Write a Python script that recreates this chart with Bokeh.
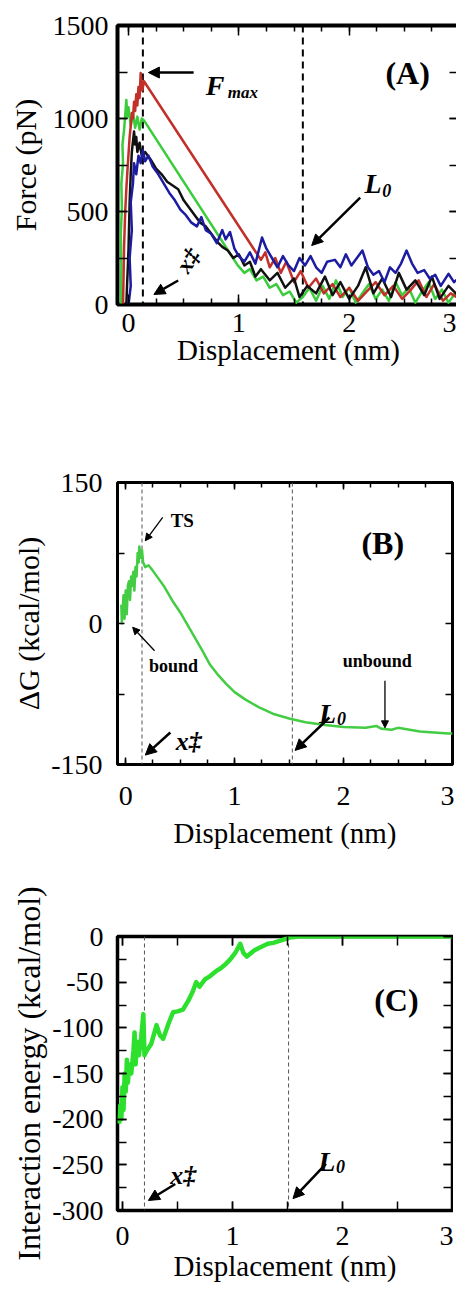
import numpy as np
from bokeh.plotting import figure
from bokeh.layouts import column
from bokeh.models import FixedTicker, LinearAxis, Span, Arrow, NormalHead, Label, Range1d
from bokeh.embed import file_html
from bokeh.resources import INLINE

SERIF = "Liberation Serif"

# ---------------- data ----------------
x_ticks = [0, 1, 2, 3]
x_tick_labels = ["0", "1", "2", "3"]
x_label = "Displacement (nm)"

# Panel A: force traces
a_yticks = [0, 500, 1000, 1500]
a_ytick_labels = ["0", "500", "1000", "1500"]
a_ylabel = "Force (pN)"

red_x = [-0.05, -0.045, -0.04, -0.03, -0.02, -0.01, 0.0, 0.01, 0.02, 0.03, 0.04, 0.05, 0.06, 0.07, 0.08,
         0.09, 0.1, 0.11, 0.125, 0.14, 1.2, 1.24, 1.28, 1.33, 1.38, 1.43, 1.5, 1.56, 1.63, 1.7, 1.77,
         1.85, 1.92, 2.0, 2.08, 2.16, 2.24, 2.32, 2.4, 2.48, 2.56, 2.63, 2.7, 2.77, 2.85, 2.92, 3.0]
red_f = [0, 150, 320, 500, 620, 720, 810, 900, 960, 1030, 1000, 1090, 1040, 1130, 1070,
         1170, 1110, 1245, 1150, 1200, 240, 280, 200, 250, 170, 230, 120, 180, 90, 140, 60,
         110, 40, 90, 20, 70, 120, 50, 100, 30, 80, 130, 40, 110, 20, 60, 30]

green_x = [-0.07, -0.065, -0.07, -0.06, -0.065, -0.05, -0.055, -0.04, -0.03, -0.02, -0.01, 0.0,
           0.02, 0.04, 0.06, 0.08, 0.1, 0.12, 0.14, 0.99, 1.05, 1.1, 1.16, 1.22, 1.28, 1.34, 1.4,
           1.46, 1.52, 1.58, 1.64, 1.7, 1.76, 1.82, 1.88, 1.94, 2.0, 2.06, 2.12, 2.18, 2.24, 2.3,
           2.36, 2.42, 2.48, 2.54, 2.6, 2.66, 2.72, 2.78, 2.84, 2.9, 2.96, 3.0]
green_f = [0, 200, 380, 520, 650, 760, 860, 940, 1020, 1100, 1010, 1060,
           960, 1030, 950, 1010, 940, 1000, 990, 210, 170, 190, 130, 150, 90, 110, 50,
           70, 10, 40, 90, 20, 100, 30, 130, 40, 90, 10, 60, 110, 30, 80,
           20, 120, 50, 90, 10, 70, 120, 30, 80, 10, 60, 40]

black_x = [-0.02, 0.0, 0.01, 0.02, 0.03, 0.05, 0.06, 0.07, 0.08, 0.1, 0.12, 0.15, 0.2, 0.25, 0.3,
           0.35, 0.4, 0.45, 0.5, 0.55, 0.6, 0.65, 0.7, 0.75, 0.8, 0.85, 0.9, 0.95, 1.0, 1.05, 1.1,
           1.15, 1.2, 1.28, 1.35, 1.42, 1.5, 1.55, 1.62, 1.7, 1.78, 1.85, 1.92, 2.0, 2.08, 2.15,
           2.22, 2.3, 2.38, 2.45, 2.52, 2.6, 2.68, 2.75, 2.82, 2.9, 3.0]
black_f = [0, 300, 550, 700, 820, 930, 860, 900, 820, 870, 800, 820, 780, 730, 700,
           660, 640, 620, 560, 520, 480, 440, 420, 380, 340, 310, 290, 250, 270, 210, 230,
           150, 190, 130, 170, 90, 140, 40, 100, 60, 150, 50, 120, 30, 100, 200,
           60, 140, 40, 170, 80, 130, 50, 150, 30, 100, 40]

blue_x = [0.0, 0.02, 0.01, 0.03, 0.02, 0.04, 0.05, 0.07, 0.09, 0.11, 0.13, 0.15, 0.18, 0.22, 0.27,
          0.32, 0.37, 0.42, 0.47, 0.52, 0.57, 0.62, 0.66, 0.7, 0.75, 0.8, 0.85, 0.88, 0.92, 0.96,
          1.0, 1.05, 1.1, 1.15, 1.21, 1.25, 1.3, 1.35, 1.4, 1.45, 1.5, 1.55, 1.6, 1.65, 1.7, 1.75,
          1.8, 1.87, 1.92, 1.97, 2.02, 2.07, 2.12, 2.17, 2.22, 2.27, 2.32, 2.37, 2.42, 2.47, 2.52,
          2.57, 2.62, 2.68, 2.73, 2.78, 2.83, 2.9, 2.95, 3.0]
blue_f = [0, 100, 250, 400, 550, 650, 760, 700, 800, 760, 830, 770, 800, 740, 700,
          650, 600, 560, 510, 480, 440, 420, 470, 400, 380, 330, 400, 350, 390, 300,
          260, 230, 280, 220, 360, 300, 250, 200, 260, 210, 180, 250, 210, 260, 200, 170,
          230, 240, 200, 270, 210, 250, 290, 200, 160, 180, 120, 200, 170, 220, 290,
          220, 170, 185, 140, 160, 100, 165, 120, 147]

# Panel B: free energy profile
b_yticks = [-150, 0, 150]
b_ytick_labels = ["-150", "0", "150"]
b_ylabel = "\u0394G (kcal/mol)"
dg_x = [-0.04, -0.035, -0.02, -0.01, 0.0, 0.01, 0.02, 0.03, 0.04, 0.05, 0.06, 0.07, 0.08, 0.09,
        0.1, 0.11, 0.12, 0.125, 0.14, 0.15, 0.16, 0.18, 0.21, 0.25, 0.3, 0.35, 0.43, 0.5, 0.61,
        0.7, 0.77, 0.85, 0.92, 1.0, 1.1, 1.22, 1.35, 1.5, 1.65, 1.83, 2.0, 2.2, 2.3, 2.35,
        2.44, 2.5, 2.7, 2.96, 3.0]
dg_y = [20, 0, 30, 5, 35, 10, 40, 45, 25, 50, 40, 55, 35, 60,
        50, 75, 65, 82, 70, 78, 65, 60, 62, 56, 48, 40, 24, 12, -10,
        -28, -43, -55, -64, -73, -81, -89, -96, -101, -105, -108, -110, -111, -109, -112,
        -113, -111, -115, -117, -117]

# Panel C: interaction energy
c_yticks = [-300, -250, -200, -150, -100, -50, 0]
c_ytick_labels = ["-300", "-250", "-200", "-150", "-100", "-50", "0"]
c_ylabel = "Interaction energy (kcal/mol)"
ie_x = [-0.03, -0.02, -0.01, 0.0, 0.01, 0.02, 0.03, 0.04, 0.05, 0.06, 0.08, 0.1, 0.11, 0.12,
        0.13, 0.15, 0.17, 0.19, 0.2, 0.22, 0.26, 0.31, 0.34, 0.37, 0.42, 0.46, 0.5, 0.55, 0.6,
        0.64, 0.67, 0.7, 0.75, 0.8, 0.85, 0.89, 0.94, 0.98, 1.03, 1.07, 1.1, 1.13, 1.2, 1.25,
        1.32, 1.37, 1.45, 1.52, 1.6, 2.0, 2.5, 3.0]
ie_y = [-205, -185, -200, -165, -190, -150, -170, -135, -160, -140, -150, -125, -105, -140,
        -115, -130, -110, -85, -130, -125, -118, -97, -108, -112, -95, -83, -82, -80, -70,
        -60, -50, -55, -47, -43, -38, -35, -30, -25, -17, -8, -18, -22, -15, -12,
        -8, -7, -4, -1, 0, 0, 0, 0]

# ---------------- helpers ----------------
def make_fig(xr, yr, fw, fh, left, top, bottom, outline_w):
    p = figure(x_range=Range1d(*xr), y_range=Range1d(*yr), frame_width=fw, frame_height=fh,
               min_border_left=left, min_border_right=2, min_border_top=top,
               min_border_bottom=bottom, output_backend="svg", toolbar_location=None)
    p.xgrid.visible = False
    p.ygrid.visible = False
    p.outline_line_color = "black"
    p.outline_line_width = outline_w
    p.background_fill_color = "white"
    p.border_fill_color = "white"
    return p


def style_axis(ax, ticks, minor, labels, tick_in, minor_in, lab_standoff=0, label=None,
               label_size="29px", label_standoff=0, hide=False):
    ax.ticker = FixedTicker(ticks=ticks, minor_ticks=minor)
    ax.axis_line_color = None
    ax.major_tick_in = tick_in
    ax.major_tick_out = 0
    ax.minor_tick_in = minor_in
    ax.minor_tick_out = 0
    ax.major_tick_line_width = 1.5
    ax.minor_tick_line_width = 1.5
    ax.major_tick_line_color = "black"
    ax.minor_tick_line_color = "black"
    if hide:
        ax.major_label_text_font_size = "0px"
        ax.major_label_text_color = None
        ax.major_label_standoff = 0
        ax.axis_label = None
    else:
        ax.major_label_overrides = {t: s for t, s in zip(ticks, labels)}
        ax.major_label_text_font = SERIF
        ax.major_label_text_font_size = "28px"
        ax.major_label_text_color = "black"
        ax.major_label_standoff = lab_standoff
        ax.axis_label = label
        ax.axis_label_text_font = SERIF
        ax.axis_label_text_font_style = "normal"
        ax.axis_label_text_font_size = label_size
        ax.axis_label_text_color = "black"
        ax.axis_label_standoff = label_standoff


def mirror(p, xt, xm, yt, ym, tin, minin, ytin, yminin):
    top = LinearAxis()
    style_axis(top, xt, xm, None, tin, minin, hide=True)
    p.add_layout(top, "above")
    right = LinearAxis()
    style_axis(right, yt, ym, None, ytin, yminin, hide=True)
    p.add_layout(right, "right")


def text(p, x, y, s, size, style="bold", align="left", baseline="alphabetic", angle=0):
    p.add_layout(Label(x=x, y=y, text=s, text_font=SERIF, text_font_style=style,
                       text_font_size=size, text_color="black", text_align=align,
                       text_baseline=baseline, angle=angle))


def arrow(p, x0, y0, x1, y1, width=2.5, head=11):
    p.add_layout(Arrow(end=NormalHead(size=head, fill_color="black", line_color="black",
                                      line_width=1),
                       x_start=x0, y_start=y0, x_end=x1, y_end=y1,
                       line_color="black", line_width=width))


x_minor_q = list(np.arange(0, 3.01, 0.25))
x_minor_h = list(np.arange(0, 3.01, 0.5))

# ---------------- Panel A ----------------
pa = make_fig((-0.1, 3.0), (0, 1500), 342, 279, 109, 25, 148, 4)
style_axis(pa.xaxis[0], x_ticks, x_minor_q, x_tick_labels, 10, 6, lab_standoff=9,
           label=x_label, label_size="29px", label_standoff=-1)
style_axis(pa.yaxis[0], a_yticks, list(np.arange(0, 1501, 250)), a_ytick_labels, 10, 10,
           lab_standoff=9, label=a_ylabel, label_size="30px", label_standoff=8)
mirror(pa, x_ticks, x_minor_q, a_yticks, list(np.arange(0, 1501, 250)), 10, 6, 10, 10)

for xv in (0.13, 1.58):
    pa.add_layout(Span(location=xv, dimension="height", line_color="black", line_width=2,
                       line_dash="7 5", level="underlay"))

pa.line(green_x, green_f, line_color="#3acc3a", line_width=2.5, line_join="round")
pa.line(red_x, red_f, line_color="#c2302a", line_width=2.5, line_join="round")
pa.line(black_x, black_f, line_color="#111111", line_width=2.5, line_join="round")
pa.line(blue_x, blue_f, line_color="#1c1ca0", line_width=2.5, line_join="round")

arrow(pa, 0.59, 1247, 0.18, 1247)
text(pa, 0.70, 1177, "F", "28px", "bold italic")
text(pa, 0.90, 1140, "max", "17px", "bold italic")
text(pa, 2.53, 1247, "(A)", "32px", "bold", align="center", baseline="middle")
arrow(pa, 2.1, 575, 1.66, 317)
text(pa, 2.14, 650, "L", "28px", "bold italic")
text(pa, 2.30, 613, "0", "18px", "bold italic")
arrow(pa, 0.45, 129, 0.23, 54)
text(pa, 0.54, 237, "x\u2021", "24px", "bold italic", align="center", baseline="middle",
     angle=1.0)

# ---------------- Panel B ----------------
pb = make_fig((-0.075, 3.0), (-150, 150), 335, 282, 117, 30, 112, 3)
style_axis(pb.xaxis[0], x_ticks, x_minor_q, x_tick_labels, 7, 5, lab_standoff=22,
           label=x_label, label_size="29px", label_standoff=9)
style_axis(pb.yaxis[0], b_yticks, [-75, 75], b_ytick_labels, 7, 7,
           lab_standoff=15, label=b_ylabel, label_size="30px", label_standoff=3)
mirror(pb, x_ticks, x_minor_q, b_yticks, [-75, 75], 7, 5, 7, 7)

for xv in (0.15, 1.53):
    pb.add_layout(Span(location=xv, dimension="height", line_color="#555555", line_width=1,
                       line_dash="4 3", level="underlay"))

pb.line(dg_x, dg_y, line_color="#44cc44", line_width=2.5, line_join="round")

text(pb, 0.52, 110, "TS", "19px", "bold", align="center", baseline="middle")
arrow(pb, 0.34, 113, 0.18, 88, width=1.3, head=7)
text(pb, 2.36, 86, "(B)", "32px", "bold", align="center", baseline="middle")
text(pb, 0.44, -45, "bound", "18px", "bold", align="center", baseline="middle")
arrow(pb, 0.265, -29, 0.064, -4, width=1.3, head=7)
text(pb, 2.31, -40, "unbound", "18px", "bold", align="center", baseline="middle")
arrow(pb, 2.38, -61, 2.38, -111, width=1.3, head=7)
text(pb, 1.775, -96, "L", "28px", "bold italic")
text(pb, 1.94, -101, "0", "18px", "bold italic")
arrow(pb, 1.87, -100, 1.555, -135)
text(pb, 0.46, -125, "x\u2021", "26px", "bold italic")
arrow(pb, 0.41, -116, 0.18, -140)

# ---------------- Panel C ----------------
pc = make_fig((-0.045, 3.0), (-300, 0), 335, 274, 116, 60, 0, 3.5)
style_axis(pc.xaxis[0], x_ticks, x_minor_h, x_tick_labels, 9, 9, lab_standoff=16,
           label=x_label, label_size="29px", label_standoff=2)
style_axis(pc.yaxis[0], c_yticks, list(np.arange(-300, 1, 25)), c_ytick_labels, 9, 9,
           lab_standoff=14, label=c_ylabel, label_size="32px", label_standoff=2)
mirror(pc, x_ticks, x_minor_h, c_yticks, list(np.arange(-300, 1, 25)), 9, 9, 9, 9)

for xv in (0.2, 1.51):
    pc.add_layout(Span(location=xv, dimension="height", line_color="#555555", line_width=1,
                       line_dash="4 3", level="underlay"))

pc.line(ie_x, ie_y, line_color="#2ee02e", line_width=4.5, line_join="round")

text(pc, 2.49, -69, "(C)", "32px", "bold", align="center", baseline="middle")
text(pc, 0.435, -262, "x\u2021", "26px", "bold italic")
arrow(pc, 0.48, -271, 0.236, -289)
text(pc, 1.78, -246, "L", "28px", "bold italic")
text(pc, 1.94, -252, "0", "18px", "bold italic")
arrow(pc, 1.85, -249, 1.55, -287)

layout = column(pa, pb, pc, spacing=0)
open("out.html", "w").write(file_html(layout, INLINE))
